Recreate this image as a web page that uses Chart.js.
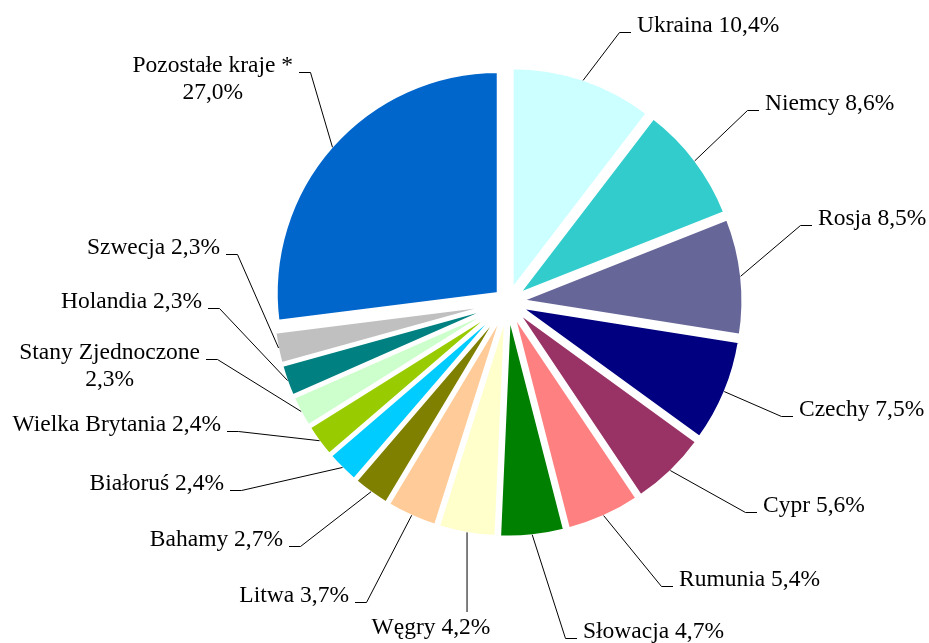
<!DOCTYPE html>
<html lang="pl">
<head>
  <meta charset="UTF-8" />
  <title>Struktura według krajów</title>
  <script src="https://cdn.jsdelivr.net/npm/chart.js"></script>
  <style>
    body { margin: 0; background: #fff; }
    #wrap { width: 929px; height: 643px; }
  </style>
</head>
<body>
  <div id="wrap"><canvas id="pieChart"></canvas></div>

  <script>
    const countries = ['Ukraina', 'Niemcy', 'Rosja', 'Czechy', 'Cypr', 'Rumunia', 'Słowacja', 'Węgry',
      'Litwa', 'Bahamy', 'Białoruś', 'Wielka Brytania', 'Stany Zjednoczone', 'Holandia', 'Szwecja', 'Pozostałe kraje *'];
    const shares = [10.4, 8.6, 8.5, 7.5, 5.6, 5.4, 4.7, 4.2, 3.7, 2.7, 2.4, 2.4, 2.3, 2.3, 2.3, 27.0];

    const sliceColors = ['#CCFFFF', '#33CCCC', '#666699', '#000080', '#993366', '#FF8080', '#008000', '#FFFFCC',
      '#FFCC99', '#808000', '#00CCFF', '#99CC00', '#CCFFCC', '#008080', '#C0C0C0', '#0066CC'];

    // where each label text sits (text edge x, baseline y) and on which side of the pie
    const labelPlaces = [
      { x: 637, y: 31.5, side: 'right' },
      { x: 765, y: 109.5, side: 'right' },
      { x: 818, y: 225, side: 'right' },
      { x: 799, y: 416, side: 'right' },
      { x: 763, y: 511.5, side: 'right' },
      { x: 679, y: 586, side: 'right' },
      { x: 583, y: 638, side: 'right' },
      { x: 431, y: 634, side: 'below' },
      { x: 349, y: 602, side: 'left' },
      { x: 283, y: 546, side: 'left' },
      { x: 224, y: 490, side: 'left' },
      { x: 221, y: 431, side: 'left' },
      { x: 200, y: 359, side: 'left', wrap: true },
      { x: 202, y: 308, side: 'left' },
      { x: 220, y: 254, side: 'left' },
      { x: 293, y: 71.5, side: 'left', wrap: true }
    ];

    const explode = 13;

    // pull every slice out along its middle angle (without growing the radius like arc offset does)
    const explodeSlices = {
      id: 'explodeSlices',
      afterDatasetUpdate(chart, args, opts) {
        args.meta.data.forEach(arc => {
          if (arc.shifted) return;
          const baseDraw = arc.draw;
          arc.draw = function (ctx, area) {
            const mid = (this.startAngle + this.endAngle) / 2;
            ctx.save();
            ctx.translate(Math.cos(mid) * opts.distance, Math.sin(mid) * opts.distance);
            baseDraw.call(this, ctx, area);
            ctx.restore();
          };
          arc.shifted = true;
        });
      }
    };

    const sliceLabels = {
      id: 'sliceLabels',
      afterDatasetsDraw(chart, args, opts) {
        const ctx = chart.ctx;
        const arcs = chart.getDatasetMeta(0).data;
        ctx.save();
        ctx.font = opts.font;
        ctx.fillStyle = opts.color;
        ctx.strokeStyle = opts.lineColor;
        ctx.lineWidth = 1;
        ctx.textBaseline = 'alphabetic';
        arcs.forEach((arc, i) => {
          const place = labelPlaces[i];
          const mid = (arc.startAngle + arc.endAngle) / 2;
          const r = arc.outerRadius + opts.distance - 1;
          const ax = arc.x + Math.cos(mid) * r;
          const ay = arc.y + Math.sin(mid) * r;
          const pct = shares[i].toFixed(1).replace('.', ',') + '%';
          const ty = Math.round(place.y) + 0.5;

          ctx.beginPath();
          ctx.moveTo(ax, ay);
          if (place.side === 'below') {
            ctx.lineTo(ax, place.y - 22);
          } else {
            const dir = place.side === 'right' ? -1 : 1;
            ctx.lineTo(place.x + dir * 17.5, ty);
            ctx.lineTo(place.x + dir * 6, ty);
          }
          ctx.stroke();

          if (place.side === 'below') {
            ctx.textAlign = 'center';
            ctx.fillText(countries[i] + ' ' + pct, place.x, place.y);
          } else if (place.side === 'right') {
            ctx.textAlign = 'left';
            ctx.fillText(countries[i] + ' ' + pct, place.x, place.y);
          } else if (place.wrap) {
            ctx.textAlign = 'right';
            ctx.fillText(countries[i], place.x, place.y);
            const w = ctx.measureText(countries[i]).width;
            ctx.textAlign = 'center';
            ctx.fillText(pct, place.x - w / 2, place.y + opts.lineHeight);
          } else {
            ctx.textAlign = 'right';
            ctx.fillText(countries[i] + ' ' + pct, place.x, place.y);
          }
        });
        ctx.restore();
      }
    };

    new Chart(document.getElementById('pieChart'), {
      type: 'pie',
      data: {
        labels: countries,
        datasets: [{
          data: shares,
          backgroundColor: sliceColors,
          borderColor: '#ffffff',
          borderWidth: 3
        }]
      },
      options: {
        responsive: true,
        maintainAspectRatio: false,
        animation: false,
        radius: 222,
        layout: { padding: { left: 87, right: 0, top: 0, bottom: 39 } },
        plugins: {
          legend: { display: false },
          tooltip: { enabled: false },
          explodeSlices: { distance: explode },
          sliceLabels: {
            distance: explode,
            font: '23.5px "Liberation Serif", "Times New Roman", serif',
            color: '#000000',
            lineColor: '#000000',
            lineHeight: 27
          }
        }
      },
      plugins: [explodeSlices, sliceLabels]
    });
  </script>
</body>
</html>
